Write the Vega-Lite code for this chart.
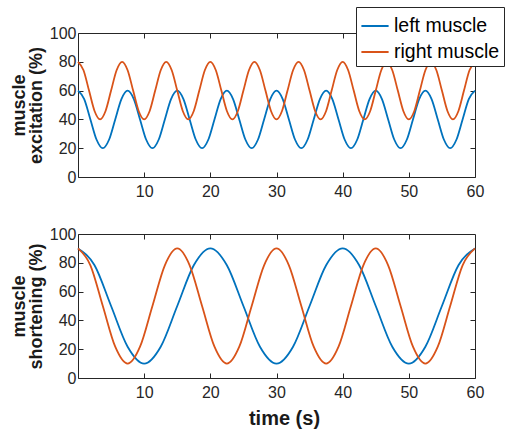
{
  "$schema": "https://vega.github.io/schema/vega-lite/v6.json",
  "padding": {"left": 9, "top": 6, "right": 0, "bottom": 0},
  "config": {
    "font": "Liberation Sans",
    "view": {"stroke": "#262626", "strokeWidth": 1},
    "axis": {
      "grid": false, "domain": false, "tickSize": -5, "tickColor": "#262626",
      "labelColor": "#262626", "labelFontSize": 16, "labelFlush": false, "labelPadding": 11,
      "titleColor": "#1a1a1a", "titleFontSize": 18, "titleFontWeight": "bold"
    },
    "axisY": {"labelPadding": 7},
    "legend": {
      "strokeColor": "#262626", "fillColor": "white", "padding": 4,
      "symbolType": "stroke", "symbolSize": 740, "symbolStrokeWidth": 2,
      "labelFontSize": 19.5, "labelColor": "black", "rowPadding": 1, "labelOffset": 4
    }
  },
  "datasets": {
    "exc": [
      {"m":"left muscle","t":0,"v":60},{"m":"left muscle","t":0.9375,"v":54.14},{"m":"left muscle","t":1.875,"v":40},{"m":"left muscle","t":2.8125,"v":25.86},{"m":"left muscle","t":3.75,"v":20},{"m":"left muscle","t":4.6875,"v":25.86},{"m":"left muscle","t":5.625,"v":40},{"m":"left muscle","t":6.5625,"v":54.14},
      {"m":"left muscle","t":7.5,"v":60},{"m":"left muscle","t":8.4375,"v":54.14},{"m":"left muscle","t":9.375,"v":40},{"m":"left muscle","t":10.3125,"v":25.86},{"m":"left muscle","t":11.25,"v":20},{"m":"left muscle","t":12.1875,"v":25.86},{"m":"left muscle","t":13.125,"v":40},{"m":"left muscle","t":14.0625,"v":54.14},
      {"m":"left muscle","t":15,"v":60},{"m":"left muscle","t":15.9375,"v":54.14},{"m":"left muscle","t":16.875,"v":40},{"m":"left muscle","t":17.8125,"v":25.86},{"m":"left muscle","t":18.75,"v":20},{"m":"left muscle","t":19.6875,"v":25.86},{"m":"left muscle","t":20.625,"v":40},{"m":"left muscle","t":21.5625,"v":54.14},
      {"m":"left muscle","t":22.5,"v":60},{"m":"left muscle","t":23.4375,"v":54.14},{"m":"left muscle","t":24.375,"v":40},{"m":"left muscle","t":25.3125,"v":25.86},{"m":"left muscle","t":26.25,"v":20},{"m":"left muscle","t":27.1875,"v":25.86},{"m":"left muscle","t":28.125,"v":40},{"m":"left muscle","t":29.0625,"v":54.14},
      {"m":"left muscle","t":30,"v":60},{"m":"left muscle","t":30.9375,"v":54.14},{"m":"left muscle","t":31.875,"v":40},{"m":"left muscle","t":32.8125,"v":25.86},{"m":"left muscle","t":33.75,"v":20},{"m":"left muscle","t":34.6875,"v":25.86},{"m":"left muscle","t":35.625,"v":40},{"m":"left muscle","t":36.5625,"v":54.14},
      {"m":"left muscle","t":37.5,"v":60},{"m":"left muscle","t":38.4375,"v":54.14},{"m":"left muscle","t":39.375,"v":40},{"m":"left muscle","t":40.3125,"v":25.86},{"m":"left muscle","t":41.25,"v":20},{"m":"left muscle","t":42.1875,"v":25.86},{"m":"left muscle","t":43.125,"v":40},{"m":"left muscle","t":44.0625,"v":54.14},
      {"m":"left muscle","t":45,"v":60},{"m":"left muscle","t":45.9375,"v":54.14},{"m":"left muscle","t":46.875,"v":40},{"m":"left muscle","t":47.8125,"v":25.86},{"m":"left muscle","t":48.75,"v":20},{"m":"left muscle","t":49.6875,"v":25.86},{"m":"left muscle","t":50.625,"v":40},{"m":"left muscle","t":51.5625,"v":54.14},
      {"m":"left muscle","t":52.5,"v":60},{"m":"left muscle","t":53.4375,"v":54.14},{"m":"left muscle","t":54.375,"v":40},{"m":"left muscle","t":55.3125,"v":25.86},{"m":"left muscle","t":56.25,"v":20},{"m":"left muscle","t":57.1875,"v":25.86},{"m":"left muscle","t":58.125,"v":40},{"m":"left muscle","t":59.0625,"v":54.14},
      {"m":"left muscle","t":60,"v":60},
      {"m":"right muscle","t":0,"v":80},{"m":"right muscle","t":0.8333,"v":74.14},{"m":"right muscle","t":1.6667,"v":60},{"m":"right muscle","t":2.5,"v":45.86},{"m":"right muscle","t":3.3333,"v":40},{"m":"right muscle","t":4.1667,"v":45.86},{"m":"right muscle","t":5,"v":60},{"m":"right muscle","t":5.8333,"v":74.14},
      {"m":"right muscle","t":6.6667,"v":80},{"m":"right muscle","t":7.5,"v":74.14},{"m":"right muscle","t":8.3333,"v":60},{"m":"right muscle","t":9.1667,"v":45.86},{"m":"right muscle","t":10,"v":40},{"m":"right muscle","t":10.8333,"v":45.86},{"m":"right muscle","t":11.6667,"v":60},{"m":"right muscle","t":12.5,"v":74.14},
      {"m":"right muscle","t":13.3333,"v":80},{"m":"right muscle","t":14.1667,"v":74.14},{"m":"right muscle","t":15,"v":60},{"m":"right muscle","t":15.8333,"v":45.86},{"m":"right muscle","t":16.6667,"v":40},{"m":"right muscle","t":17.5,"v":45.86},{"m":"right muscle","t":18.3333,"v":60},{"m":"right muscle","t":19.1667,"v":74.14},
      {"m":"right muscle","t":20,"v":80},{"m":"right muscle","t":20.8333,"v":74.14},{"m":"right muscle","t":21.6667,"v":60},{"m":"right muscle","t":22.5,"v":45.86},{"m":"right muscle","t":23.3333,"v":40},{"m":"right muscle","t":24.1667,"v":45.86},{"m":"right muscle","t":25,"v":60},{"m":"right muscle","t":25.8333,"v":74.14},
      {"m":"right muscle","t":26.6667,"v":80},{"m":"right muscle","t":27.5,"v":74.14},{"m":"right muscle","t":28.3333,"v":60},{"m":"right muscle","t":29.1667,"v":45.86},{"m":"right muscle","t":30,"v":40},{"m":"right muscle","t":30.8333,"v":45.86},{"m":"right muscle","t":31.6667,"v":60},{"m":"right muscle","t":32.5,"v":74.14},
      {"m":"right muscle","t":33.3333,"v":80},{"m":"right muscle","t":34.1667,"v":74.14},{"m":"right muscle","t":35,"v":60},{"m":"right muscle","t":35.8333,"v":45.86},{"m":"right muscle","t":36.6667,"v":40},{"m":"right muscle","t":37.5,"v":45.86},{"m":"right muscle","t":38.3333,"v":60},{"m":"right muscle","t":39.1667,"v":74.14},
      {"m":"right muscle","t":40,"v":80},{"m":"right muscle","t":40.8333,"v":74.14},{"m":"right muscle","t":41.6667,"v":60},{"m":"right muscle","t":42.5,"v":45.86},{"m":"right muscle","t":43.3333,"v":40},{"m":"right muscle","t":44.1667,"v":45.86},{"m":"right muscle","t":45,"v":60},{"m":"right muscle","t":45.8333,"v":74.14},
      {"m":"right muscle","t":46.6667,"v":80},{"m":"right muscle","t":47.5,"v":74.14},{"m":"right muscle","t":48.3333,"v":60},{"m":"right muscle","t":49.1667,"v":45.86},{"m":"right muscle","t":50,"v":40},{"m":"right muscle","t":50.8333,"v":45.86},{"m":"right muscle","t":51.6667,"v":60},{"m":"right muscle","t":52.5,"v":74.14},
      {"m":"right muscle","t":53.3333,"v":80},{"m":"right muscle","t":54.1667,"v":74.14},{"m":"right muscle","t":55,"v":60},{"m":"right muscle","t":55.8333,"v":45.86},{"m":"right muscle","t":56.6667,"v":40},{"m":"right muscle","t":57.5,"v":45.86},{"m":"right muscle","t":58.3333,"v":60},{"m":"right muscle","t":59.1667,"v":74.14},
      {"m":"right muscle","t":60,"v":80}
    ],
    "sho": [
      {"m":"left muscle","t":0,"v":90},{"m":"left muscle","t":2.5,"v":78.28},{"m":"left muscle","t":5,"v":50},{"m":"left muscle","t":7.5,"v":21.72},{"m":"left muscle","t":10,"v":10},{"m":"left muscle","t":12.5,"v":21.72},{"m":"left muscle","t":15,"v":50},{"m":"left muscle","t":17.5,"v":78.28},
      {"m":"left muscle","t":20,"v":90},{"m":"left muscle","t":22.5,"v":78.28},{"m":"left muscle","t":25,"v":50},{"m":"left muscle","t":27.5,"v":21.72},{"m":"left muscle","t":30,"v":10},{"m":"left muscle","t":32.5,"v":21.72},{"m":"left muscle","t":35,"v":50},{"m":"left muscle","t":37.5,"v":78.28},
      {"m":"left muscle","t":40,"v":90},{"m":"left muscle","t":42.5,"v":78.28},{"m":"left muscle","t":45,"v":50},{"m":"left muscle","t":47.5,"v":21.72},{"m":"left muscle","t":50,"v":10},{"m":"left muscle","t":52.5,"v":21.72},{"m":"left muscle","t":55,"v":50},{"m":"left muscle","t":57.5,"v":78.28},
      {"m":"left muscle","t":60,"v":90},
      {"m":"right muscle","t":0,"v":90},{"m":"right muscle","t":1.875,"v":78.28},{"m":"right muscle","t":3.75,"v":50},{"m":"right muscle","t":5.625,"v":21.72},{"m":"right muscle","t":7.5,"v":10},{"m":"right muscle","t":9.375,"v":21.72},{"m":"right muscle","t":11.25,"v":50},{"m":"right muscle","t":13.125,"v":78.28},
      {"m":"right muscle","t":15,"v":90},{"m":"right muscle","t":16.875,"v":78.28},{"m":"right muscle","t":18.75,"v":50},{"m":"right muscle","t":20.625,"v":21.72},{"m":"right muscle","t":22.5,"v":10},{"m":"right muscle","t":24.375,"v":21.72},{"m":"right muscle","t":26.25,"v":50},{"m":"right muscle","t":28.125,"v":78.28},
      {"m":"right muscle","t":30,"v":90},{"m":"right muscle","t":31.875,"v":78.28},{"m":"right muscle","t":33.75,"v":50},{"m":"right muscle","t":35.625,"v":21.72},{"m":"right muscle","t":37.5,"v":10},{"m":"right muscle","t":39.375,"v":21.72},{"m":"right muscle","t":41.25,"v":50},{"m":"right muscle","t":43.125,"v":78.28},
      {"m":"right muscle","t":45,"v":90},{"m":"right muscle","t":46.875,"v":78.28},{"m":"right muscle","t":48.75,"v":50},{"m":"right muscle","t":50.625,"v":21.72},{"m":"right muscle","t":52.5,"v":10},{"m":"right muscle","t":54.375,"v":21.72},{"m":"right muscle","t":56.25,"v":50},{"m":"right muscle","t":58.125,"v":78.28},
      {"m":"right muscle","t":60,"v":90}
    ]
  },
  "bounds": "flush",
  "spacing": 57,
  "resolve": {"legend": {"color": "independent"}},
  "vconcat": [
    {
      "width": 397, "height": 144,
      "data": {"name": "exc"},
      "layer": [
        {
          "mark": {"type": "line", "interpolate": "monotone", "strokeWidth": 1.8},
          "encoding": {
            "x": {"field": "t", "type": "quantitative", "scale": {"domain": [0, 60], "nice": false},
                  "axis": {"title": null, "values": [10, 20, 30, 40, 50, 60]}},
            "y": {"field": "v", "type": "quantitative", "scale": {"domain": [0, 100], "nice": false},
                  "axis": {"title": ["muscle", "excitation (%)"], "values": [0, 20, 40, 60, 80, 100], "titlePadding": 4, "titleLineHeight": 17}},
            "color": {"field": "m", "type": "nominal",
                      "scale": {"domain": ["left muscle", "right muscle"], "range": ["#0072BD", "#D95319"]},
                      "legend": {"title": null, "orient": "none", "legendX": 278, "legendY": -26}}
          }
        },
        {
          "mark": {"type": "point", "opacity": 0},
          "encoding": {
            "x": {"field": "t", "type": "quantitative", "axis": {"orient": "top", "labels": false, "title": null, "values": [10, 20, 30, 40, 50]}},
            "y": {"field": "v", "type": "quantitative", "axis": {"orient": "right", "labels": false, "title": null, "values": [20, 40, 60, 80]}}
          }
        }
      ],
      "resolve": {"axis": {"x": "independent", "y": "independent"}}
    },
    {
      "width": 397, "height": 144,
      "data": {"name": "sho"},
      "layer": [
        {
          "mark": {"type": "line", "interpolate": "monotone", "strokeWidth": 1.8},
          "encoding": {
            "x": {"field": "t", "type": "quantitative", "scale": {"domain": [0, 60], "nice": false},
                  "axis": {"title": "time (s)", "values": [10, 20, 30, 40, 50, 60], "titlePadding": 8, "titleFontSize": 20, "titleX": 206}},
            "y": {"field": "v", "type": "quantitative", "scale": {"domain": [0, 100], "nice": false},
                  "axis": {"title": ["muscle", "shortening (%)"], "values": [0, 20, 40, 60, 80, 100], "titlePadding": 4, "titleLineHeight": 17}},
            "color": {"field": "m", "type": "nominal",
                      "scale": {"domain": ["left muscle", "right muscle"], "range": ["#0072BD", "#D95319"]},
                      "legend": null}
          }
        },
        {
          "mark": {"type": "point", "opacity": 0},
          "encoding": {
            "x": {"field": "t", "type": "quantitative", "axis": {"orient": "top", "labels": false, "title": null, "values": [10, 20, 30, 40, 50]}},
            "y": {"field": "v", "type": "quantitative", "axis": {"orient": "right", "labels": false, "title": null, "values": [20, 40, 60, 80]}}
          }
        }
      ],
      "resolve": {"axis": {"x": "independent", "y": "independent"}}
    }
  ]
}
